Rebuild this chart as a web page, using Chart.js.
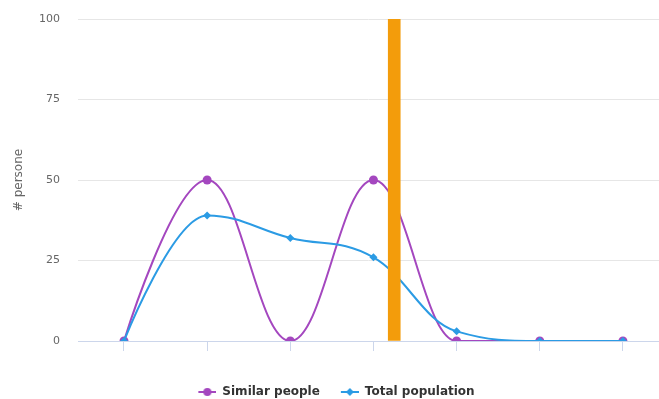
<!DOCTYPE html>
<html>
<head>
<meta charset="utf-8">
<script src="https://cdn.jsdelivr.net/npm/chart.js@4.4.1/dist/chart.umd.min.js"></script>
<style>
  html, body { margin: 0; padding: 0; background: #fff; }
  #wrap { width: 659px; height: 399px; }
</style>
</head>
<body>
<div id="wrap"><canvas id="chart" width="659" height="399"></canvas></div>
<script>
// Data
const categories = ['', '', '', '', '', '', ''];
const similarPeople = [0, 50, 0, 50, 0, 0, 0];
const totalPopulation = [0, 39, 32, 26, 3, 0, 0];
const yTicks = [0, 25, 50, 75, 100];
// orange marker: position on the category index axis and its height
const markerPos = [3.25];
const markerValue = [100];

const purple = '#a447bf';
const blue = '#2b9be4';
const orange = '#f39c0b';

// legend symbol: short line with the series marker on it (blank lead-in keeps the item gap)
function legendSymbol(color, shape) {
    const c = document.createElement('canvas');
    c.width = 32;
    c.height = 10;
    const g = c.getContext('2d');
    g.strokeStyle = color;
    g.fillStyle = color;
    g.lineWidth = 2;
    g.beginPath();
    g.moveTo(14, 5);
    g.lineTo(32, 5);
    g.stroke();
    g.beginPath();
    if (shape === 'circle') {
        g.arc(23, 5, 4, 0, Math.PI * 2);
    } else {
        g.moveTo(23, 1); g.lineTo(27, 5); g.lineTo(23, 9); g.lineTo(19, 5); g.closePath();
    }
    g.fill();
    return c;
}

// spline control points in the style of the original (smoothing 1.5, no overshoot at peaks)
const splinePlugin = {
    id: 'splinePlugin',
    beforeDatasetDraw(chart, args) {
        const meta = args.meta;
        if (meta.type !== 'line') return;
        const line = meta.dataset;
        line.updateControlPoints(chart.chartArea, meta.iScale.axis);
        const pts = meta.data;
        const s = 1.5, d = 2.5;
        pts.forEach((p, i) => {
            const prev = pts[i - 1], next = pts[i + 1];
            let lx = p.x, ly = p.y, rx = p.x, ry = p.y;
            if (prev && next) {
                lx = (s * p.x + prev.x) / d; ly = (s * p.y + prev.y) / d;
                rx = (s * p.x + next.x) / d; ry = (s * p.y + next.y) / d;
                if (rx !== lx) {
                    const corr = ((ry - ly) * (rx - p.x)) / (rx - lx) + p.y - ry;
                    ly += corr; ry += corr;
                }
                if (ly > prev.y && ly > p.y) { ly = Math.max(prev.y, p.y); ry = 2 * p.y - ly; }
                else if (ly < prev.y && ly < p.y) { ly = Math.min(prev.y, p.y); ry = 2 * p.y - ly; }
                if (ry > next.y && ry > p.y) { ry = Math.max(next.y, p.y); ly = 2 * p.y - ry; }
                else if (ry < next.y && ry < p.y) { ry = Math.min(next.y, p.y); ly = 2 * p.y - ry; }
            }
            p.cp1x = lx; p.cp1y = ly; p.cp2x = rx; p.cp2y = ry;
        });
        line._path = undefined;
    }
};

const toPoints = (arr) => arr.map((y, i) => ({ x: i, y: y }));

const ctx = document.getElementById('chart').getContext('2d');
new Chart(ctx, {
    type: 'line',
    plugins: [splinePlugin],
    data: {
        datasets: [
            {
                label: 'Similar people',
                data: toPoints(similarPeople),
                borderColor: purple,
                backgroundColor: purple,
                borderWidth: 2,
                pointStyle: 'circle',
                pointRadius: 4.5,
                pointBorderWidth: 0,
                tension: 0.4,
                order: 2
            },
            {
                label: 'Total population',
                data: toPoints(totalPopulation),
                borderColor: blue,
                backgroundColor: blue,
                borderWidth: 2,
                pointStyle: 'rectRot',
                pointRadius: 4,
                pointBorderWidth: 0,
                tension: 0.4,
                order: 1
            },
            {
                type: 'bar',
                label: 'marker',
                data: markerPos.map((x, i) => ({ x: x, y: markerValue[i] })),
                backgroundColor: orange,
                barThickness: 12,
                order: 0
            }
        ]
    },
    options: {
        responsive: false,
        animation: false,
        layout: { autoPadding: false, padding: { top: 19, right: 0, left: 0, bottom: -9 } },
        plugins: {
            tooltip: { enabled: false },
            legend: {
                position: 'bottom',
                labels: {
                    usePointStyle: true,
                    pointStyleWidth: 32,
                    boxHeight: 10,
                    padding: 7,
                    color: '#333',
                    font: { family: 'DejaVu Sans', size: 12, weight: 'bold' },
                    generateLabels: (chart) => [
                        { text: 'Similar people', pointStyle: legendSymbol(purple, 'circle'), datasetIndex: 0, fontColor: '#333', lineWidth: 0, strokeStyle: 'transparent', fillStyle: purple },
                        { text: 'Total population', pointStyle: legendSymbol(blue, 'diamond'), datasetIndex: 1, fontColor: '#333', lineWidth: 0, strokeStyle: 'transparent', fillStyle: blue }
                    ]
                }
            }
        },
        scales: {
            x: {
                type: 'linear',
                offset: false,
                min: -0.553,
                max: 6.434,
                afterBuildTicks: (s) => { s.ticks = categories.map((c, i) => ({ value: i })); },
                grid: { offset: false, drawOnChartArea: false, drawTicks: true, tickLength: 10, color: '#ccd6eb' },
                border: { color: '#ccd6eb' },
                ticks: { display: false },
                afterFit: (s) => { s.height = 38; }
            },
            y: {
                min: yTicks[0],
                max: yTicks[yTicks.length - 1],
                afterBuildTicks: (s) => { s.ticks = yTicks.map(v => ({ value: v })); },
                grid: { color: '#e6e6e6', drawTicks: true, tickLength: 18, tickColor: 'rgba(0,0,0,0)' },
                border: { display: false },
                ticks: { padding: 0, color: '#666', font: { family: 'DejaVu Sans', size: 11 } },
                title: {
                    display: true,
                    text: '# persone',
                    color: '#666',
                    font: { family: 'DejaVu Sans', size: 12 },
                    padding: { top: 12, bottom: 0 }
                },
                afterFit: (s) => { s.width = 78; }
            }
        }
    }
});
</script>
</body>
</html>
